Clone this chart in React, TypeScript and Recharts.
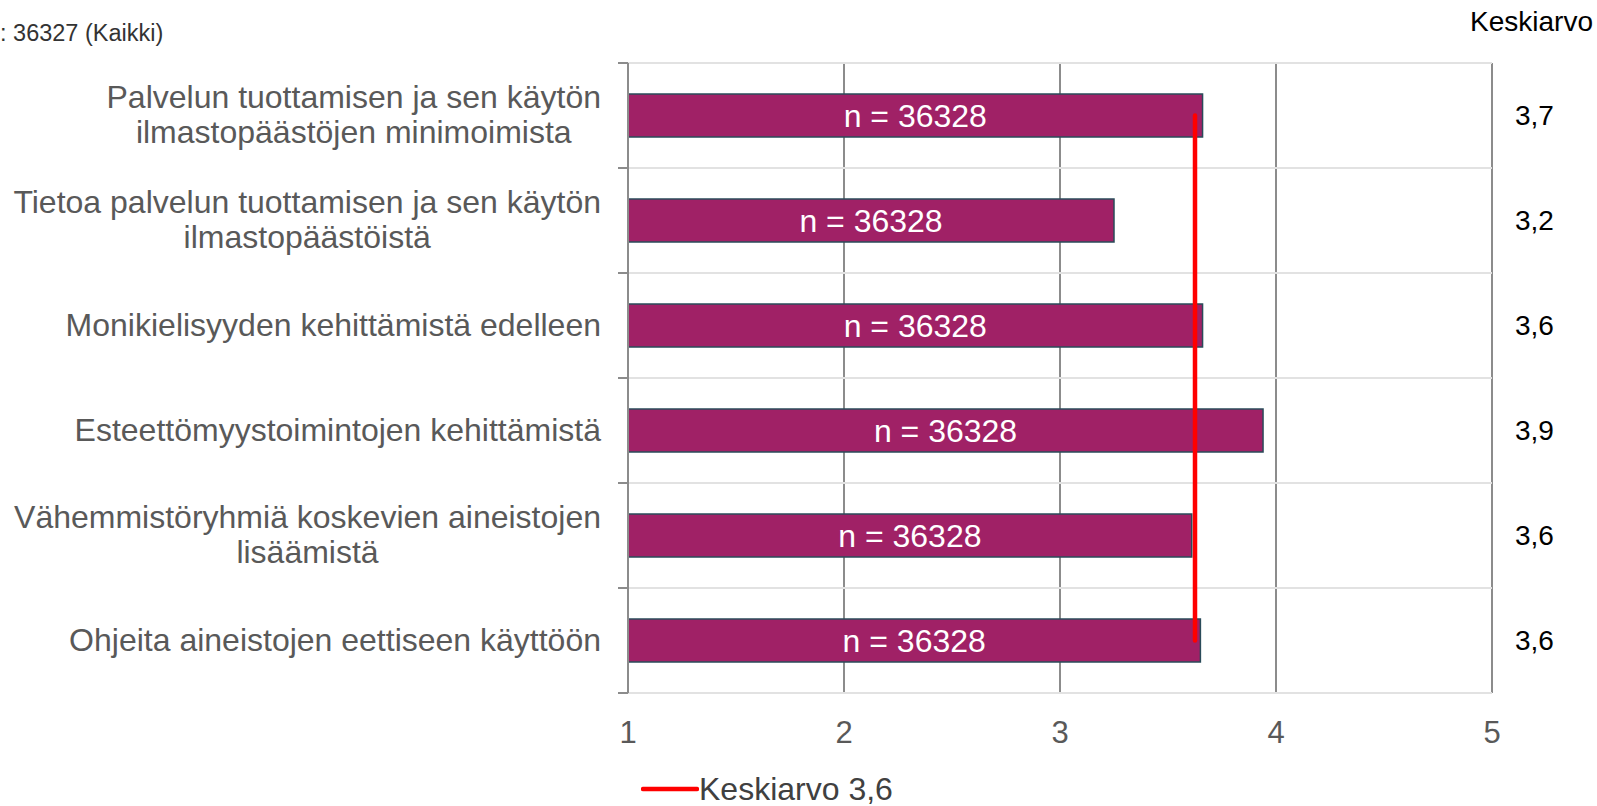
import {
  ComposedChart,
  Bar,
  Line,
  XAxis,
  YAxis,
  CartesianGrid,
  LabelList,
  Legend,
} from "recharts";

const categories = [
  "Palvelun tuottamisen ja sen käytön\nilmastopäästöjen minimoimista",
  "Tietoa palvelun tuottamisen ja sen käytön\nilmastopäästöistä",
  "Monikielisyyden kehittämistä edelleen",
  "Esteettömyystoimintojen kehittämistä",
  "Vähemmistöryhmiä koskevien aineistojen\nlisäämistä",
  "Ohjeita aineistojen eettiseen käyttöön",
];
const barValues = [3.66, 3.25, 3.66, 3.94, 3.61, 3.65];
const nValues = [36328, 36328, 36328, 36328, 36328, 36328];
const meanLabels = ["3,7", "3,2", "3,6", "3,9", "3,6", "3,6"];
const overallMean = 3.625;
const xTicks = [1, 2, 3, 4, 5];

const rows = categories.map((category, i) => ({
  category,
  value: barValues[i],
  n: nValues[i],
  meanLabel: meanLabels[i],
  avg: overallMean,
}));

const FONT = "'Liberation Sans', Arial, sans-serif";
const W = 1597;
const H = 806;
const TOP = 63;
const X_AXIS_H = 113;
const BAND = (H - TOP - X_AXIS_H) / categories.length;
const GRID = "#8c8c8c";

let ctx: CanvasRenderingContext2D | null = null;
function measure(text: string, font: string) {
  if (!ctx) ctx = document.createElement("canvas").getContext("2d");
  if (!ctx) return text.length * 16;
  ctx.font = font;
  return ctx.measureText(text).width;
}

// eslint-disable-next-line @typescript-eslint/no-explicit-any
function CategoryTick({ x, y, payload, index, visibleTicksCount }: any) {
  const lines = String(payload.value).split("\n");
  const maxW = Math.max(...lines.map((l) => measure(l, `32px ${FONT}`)));
  const cx = x - maxW / 2;
  const gap = 35.5;
  const first = y - ((lines.length - 1) * gap) / 2 - 1;
  return (
    <g>
      <line x1={x + 17} x2={x + 27} y1={y - BAND / 2} y2={y - BAND / 2} stroke={GRID} strokeWidth={2} />
      {index === visibleTicksCount - 1 && (
        <line x1={x + 17} x2={x + 27} y1={y + BAND / 2} y2={y + BAND / 2} stroke={GRID} strokeWidth={2} />
      )}
      <text textAnchor="middle" fill="#595959" fontSize={32} fontFamily={FONT}>
        {lines.map((l, i) => (
          <tspan key={i} x={cx} y={first + i * gap} dy="0.35em">
            {l}
          </tspan>
        ))}
      </text>
    </g>
  );
}

function MeanLegend() {
  return (
    <div style={{ display: "flex", alignItems: "center", fontFamily: FONT }}>
      <svg width={58} height={32}>
        <line x1={2} x2={56} y1={16} y2={16} stroke="#ff0000" strokeWidth={4.5} strokeLinecap="round" />
      </svg>
      <span style={{ fontSize: 32, lineHeight: "32px", color: "#404040" }}>Keskiarvo 3,6</span>
    </div>
  );
}

export default function App() {
  return (
    <div style={{ position: "absolute", left: 0, top: 0, width: W, height: H, background: "#fff" }}>
      <div
        style={{
          position: "absolute",
          left: 0,
          top: 22,
          fontSize: 23.5,
          lineHeight: "23.5px",
          fontFamily: FONT,
          color: "#333",
          whiteSpace: "nowrap",
        }}
      >
        : 36327 (Kaikki)
      </div>
      <div
        style={{
          position: "absolute",
          right: 4,
          top: 8,
          fontSize: 28,
          lineHeight: "28px",
          fontFamily: FONT,
          color: "#000",
        }}
      >
        Keskiarvo
      </div>
      <ComposedChart
        width={W}
        height={H}
        data={rows}
        layout="vertical"
        margin={{ top: TOP, right: 0, bottom: 0, left: 0 }}
      >
        <CartesianGrid yAxisId="cat" horizontal={false} stroke={GRID} strokeWidth={2} />
        <CartesianGrid
          yAxisId="cat"
          vertical={false}
          stroke="#e2e2e2"
          strokeWidth={2}
          // eslint-disable-next-line @typescript-eslint/no-explicit-any
          horizontalCoordinatesGenerator={({ offset }: any) =>
            Array.from({ length: categories.length + 1 }, (_, i) => offset.top + (i * offset.height) / categories.length)
          }
        />
        <XAxis
          type="number"
          domain={[1, 5]}
          ticks={xTicks}
          axisLine={false}
          tickLine={false}
          tickSize={0}
          tickMargin={28}
          height={X_AXIS_H}
          tick={{ fontSize: 31, fill: "#595959", fontFamily: FONT }}
        />
        <XAxis
          xAxisId="top"
          orientation="top"
          type="number"
          domain={[1, 5]}
          ticks={xTicks}
          height={0}
          tickSize={11}
          tickFormatter={() => ""}
          axisLine={{ stroke: GRID, strokeWidth: 2 }}
          tickLine={{ stroke: GRID, strokeWidth: 2 }}
        />
        <YAxis
          yAxisId="cat"
          type="category"
          dataKey="category"
          width={628}
          interval={0}
          tickSize={10}
          tickMargin={17}
          tickLine={false}
          axisLine={{ stroke: GRID, strokeWidth: 2 }}
          tick={<CategoryTick />}
        />
        <YAxis
          yAxisId="right"
          orientation="right"
          type="category"
          dataKey="meanLabel"
          width={105}
          interval={0}
          tickSize={0}
          tickMargin={23}
          axisLine={false}
          tickLine={false}
          tick={{ fontSize: 28, fill: "#000", fontFamily: FONT }}
        />
        <Bar
          yAxisId="cat"
          dataKey="value"
          barSize={43}
          fill="#a02166"
          stroke="#2a4b5a"
          strokeWidth={1.5}
          legendType="none"
          isAnimationActive={false}
        >
          <LabelList
            dataKey="n"
            position="center"
            formatter={(v: number) => `n = ${v}`}
            fill="#fff"
            fontSize={32}
            fontFamily={FONT}
          />
        </Bar>
        <Line
          yAxisId="cat"
          dataKey="avg"
          stroke="#ff0000"
          strokeWidth={4.5}
          strokeLinecap="round"
          dot={false}
          activeDot={false}
          isAnimationActive={false}
        />
        <Legend
          verticalAlign="middle"
          content={<MeanLegend />}
          wrapperStyle={{ top: 773, left: 641, width: 300, height: 32 }}
        />
      </ComposedChart>
    </div>
  );
}
